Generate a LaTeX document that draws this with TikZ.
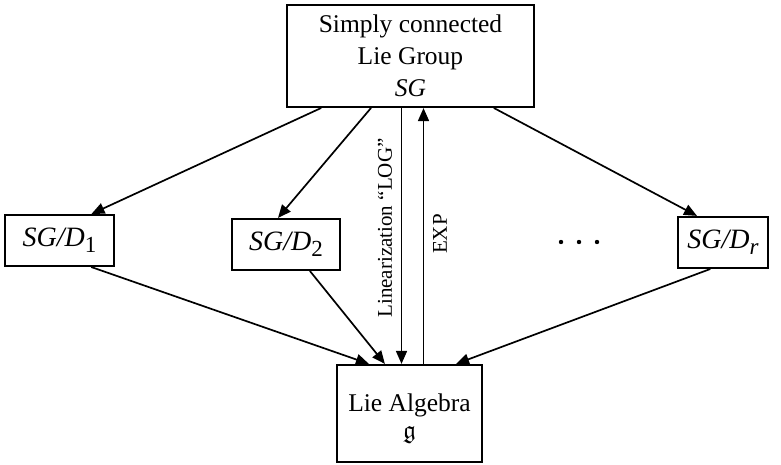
\documentclass[tikz,border=0pt]{standalone}
\usepackage{amsmath,amssymb}
\usepackage{fontspec}
\setmainfont{Liberation Serif}
\usetikzlibrary{arrows.meta}
\newcommand{\lowsub}[1]{\raisebox{-0.45ex}{\fontsize{11.5}{11.5}\selectfont #1}}

\begin{document}
\begin{tikzpicture}[x=0.5pt,y=-0.5pt,>={Triangle[length=6.5pt,width=5.5pt]},line cap=round,
  box/.style={draw,line width=1.1pt,inner sep=0pt,align=center,font=\fontsize{12.75}{16}\selectfont},
  quot/.style={box,font=\fontsize{14}{16}\selectfont},
  arr/.style={->,line width=0.85pt},
  lbl/.style={rotate=90,inner sep=0pt,font=\fontsize{10.5}{12}\selectfont}]
\useasboundingbox (0,0) rectangle (781,465);
\node[box,minimum width=123.5pt,minimum height=51pt] (sg) at (410.5,56) {Simply connected\\Lie Group\\\textit{SG}};
\node[quot,minimum width=54.5pt,minimum height=25.5pt] (d1) at (59.5,240.5) {\textit{SG/D}\lowsub{1}};
\node[quot,minimum width=54pt,minimum height=25.5pt] (d2) at (286,244.5) {\textit{SG/D}\lowsub{2}};
\node[quot,minimum width=45pt,minimum height=25.5pt] (dr) at (723,242.5) {\textit{SG/D}\lowsub{\textit{r}}};
\node[box,minimum width=72.5pt,minimum height=48.5pt] (lie) at (409.5,413.5) {\rule{0pt}{14pt}Lie Algebra\\[-2.5pt]$\mathfrak{g}$};
\fill (561,242) circle (1.1pt);
\fill (579,242) circle (1.1pt);
\fill (597,242) circle (1.1pt);
\draw[arr] ([xshift=17.5pt]sg.south west) -- ([xshift=16pt]d1.north);
\draw[arr] ([xshift=42.5pt]sg.south west) -- ([xshift=-4pt]d2.north);
\draw[arr] ([xshift=-20.5pt]sg.south east) -- ([xshift=-13pt]dr.north);
\draw[arr] ([xshift=-4.5pt]sg.south) -- ([xshift=-4.5pt]sg.south |- lie.north);
\draw[arr] ([xshift=6.5pt]sg.south |- lie.north) -- ([xshift=6.5pt]sg.south);
\draw[arr] ([xshift=16pt]d1.south) -- ([xshift=16.5pt]lie.north west);
\draw[arr] ([xshift=12pt]d2.south) -- ([xshift=24.5pt]lie.north west);
\draw[arr] ([xshift=-6.5pt]dr.south) -- ([xshift=-13.5pt]lie.north east);
\node[lbl] (log) at (385,228) {Linearization ``LOG''};
\node[lbl] (exp) at (440,234) {EXP};
\end{tikzpicture}
\end{document}
